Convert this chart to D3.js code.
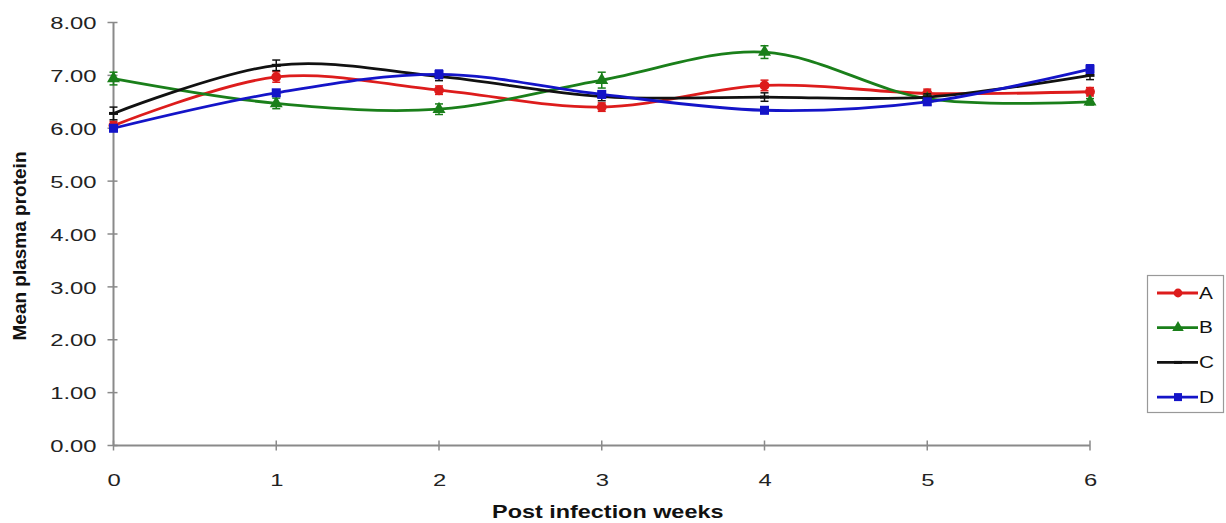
<!DOCTYPE html>
<html>
<head>
<meta charset="utf-8">
<script src="https://cdn.jsdelivr.net/npm/d3@7"></script>
<style>
  body { margin: 0; background: #fff; }
  text { font-family: "Liberation Sans", Arial, sans-serif; }
</style>
</head>
<body>
<div id="chart-area"></div>
<script>
// data
let weeks = [0, 1, 2, 3, 4, 5, 6];
let yTicks = [0, 1, 2, 3, 4, 5, 6, 7, 8];
let groups = ["A", "B", "C", "D"];
let valuesA = [6.05, 6.97, 6.72, 6.40, 6.81, 6.66, 6.69];
let valuesB = [6.94, 6.47, 6.36, 6.91, 7.44, 6.56, 6.50];
let valuesC = [6.28, 7.19, 6.98, 6.60, 6.59, 6.59, 7.00];
let valuesD = [6.00, 6.67, 7.02, 6.64, 6.34, 6.50, 7.12];
let errA = [0.08, 0.10, 0.08, 0.08, 0.10, 0.08, 0.08];
let errB = [0.12, 0.10, 0.10, 0.15, 0.12, 0.06, 0.06];
let errC = [0.12, 0.10, 0.08, 0.08, 0.08, 0.06, 0.08];
let errD = [0.06, 0.06, 0.08, 0.06, 0.06, 0.06, 0.08];
let colors = ["#dd1c1c", "#1a7f1a", "#111111", "#1414c8"];
let symbols = ["circle", "triangle", "dash", "square"];

let series = groups.map(function(g, i){
    let vals = [valuesA, valuesB, valuesC, valuesD][i];
    let errs = [errA, errB, errC, errD][i];
    return {
        name: g,
        color: colors[i],
        symbol: symbols[i],
        points: weeks.map(function(w, j){ return {x: w, y: vals[j], e: errs[j]}; })
    };
});

let width = 1226;
let height = 523;
// the source picture is stretched sideways, so text is widened too
let stretch = 1.4;

let svg = d3.select("#chart-area")
            .append("svg")
            .attr("width", width)
            .attr("height", height);

let x = d3.scaleLinear().domain([0, 6]).range([113.5, 1090]);
let y = d3.scaleLinear().domain([0, 8]).range([445.5, 22.5]);
let axisColor = "#8a8a8a";

// y axis with ticks crossing the line
let yAxis = svg.append("g")
               .attr("transform", "translate(" + x(0) + ",0)")
               .call(d3.axisLeft(y).tickValues(yTicks).tickSize(0).tickFormat(d3.format(".2f")));
yAxis.select(".domain").remove();
yAxis.selectAll("text")
     .attr("x", 0)
     .attr("dy", "0.36em")
     .attr("transform", "translate(-17,0) scale(" + stretch + ",1)")
     .style("font-size", "17px")
     .style("fill", "#222");

svg.append("line")
   .attr("x1", x(0)).attr("x2", x(0))
   .attr("y1", y(8)).attr("y2", y(0))
   .attr("stroke", axisColor).attr("stroke-width", 2);
svg.selectAll(".ytick")
   .data(yTicks)
   .enter()
   .append("line")
   .attr("x1", x(0) - 6).attr("x2", x(0) + 4)
   .attr("y1", function(d){ return y(d); })
   .attr("y2", function(d){ return y(d); })
   .attr("stroke", axisColor).attr("stroke-width", 1.5);

// x axis
let xAxis = svg.append("g")
               .attr("transform", "translate(0," + y(0) + ")")
               .call(d3.axisBottom(x).tickValues(weeks).tickSize(0).tickFormat(d3.format("d")));
xAxis.select(".domain").remove();
xAxis.selectAll("text")
     .attr("y", 0)
     .attr("dy", "0.36em")
     .attr("transform", "translate(0,34) scale(" + stretch + ",1)")
     .style("font-size", "17px")
     .style("fill", "#222");

svg.append("line")
   .attr("x1", x(0)).attr("x2", x(6))
   .attr("y1", y(0)).attr("y2", y(0))
   .attr("stroke", axisColor).attr("stroke-width", 2);
svg.selectAll(".xtick")
   .data(weeks)
   .enter()
   .append("line")
   .attr("x1", function(d){ return x(d); })
   .attr("x2", function(d){ return x(d); })
   .attr("y1", y(0) - 5).attr("y2", y(0) + 5)
   .attr("stroke", axisColor).attr("stroke-width", 1.5);

// axis titles
svg.append("text")
   .attr("transform", "translate(" + ((x(0) + x(6)) / 2 + 6) + ",518) scale(1.3,1)")
   .attr("text-anchor", "middle")
   .style("font-size", "18px")
   .style("font-weight", "bold")
   .style("fill", "#111")
   .text("Post infection  weeks");

svg.append("text")
   .attr("transform", "translate(26,246) rotate(-90)")
   .attr("text-anchor", "middle")
   .style("font-size", "19px")
   .style("font-weight", "bold")
   .style("fill", "#111")
   .text("Mean plasma protein");

let line = d3.line()
             .x(function(d){ return x(d.x); })
             .y(function(d){ return y(d.y); })
             .curve(d3.curveCatmullRom.alpha(0));

function drawMarker(sel, sym, color, size) {
    if (sym === "circle") {
        sel.append("circle").attr("r", size * 0.55).attr("fill", color);
    } else if (sym === "triangle") {
        sel.append("path").attr("d", d3.symbol().type(d3.symbolTriangle).size(size * size * 0.9)).attr("fill", color);
    } else if (sym === "square") {
        sel.append("rect").attr("x", -size / 2).attr("y", -size / 2)
           .attr("width", size).attr("height", size).attr("fill", color);
    } else {
        sel.append("rect").attr("x", -size / 2).attr("y", -1.5)
           .attr("width", size).attr("height", 3).attr("fill", color);
    }
}

let sg = svg.selectAll(".series")
            .data(series)
            .enter()
            .append("g")
            .attr("class", "series");

sg.each(function(s){
    let g = d3.select(this);
    // error bars
    s.points.forEach(function(p){
        let eb = g.append("g").attr("stroke", s.color).attr("stroke-width", 1.5);
        eb.append("line").attr("x1", x(p.x)).attr("x2", x(p.x))
          .attr("y1", y(p.y + p.e)).attr("y2", y(p.y - p.e));
        eb.append("line").attr("x1", x(p.x) - 4).attr("x2", x(p.x) + 4)
          .attr("y1", y(p.y + p.e)).attr("y2", y(p.y + p.e));
        eb.append("line").attr("x1", x(p.x) - 4).attr("x2", x(p.x) + 4)
          .attr("y1", y(p.y - p.e)).attr("y2", y(p.y - p.e));
    });
    g.append("path")
     .attr("d", line(s.points))
     .attr("fill", "none")
     .attr("stroke", s.color)
     .attr("stroke-width", 2.8);
    s.points.forEach(function(p){
        let m = g.append("g").attr("transform", "translate(" + x(p.x) + "," + y(p.y) + ")");
        drawMarker(m, s.symbol, s.color, 9);
    });
});

// legend
let legend = svg.append("g");
legend.append("rect")
      .attr("x", 1147.5).attr("y", 275.5)
      .attr("width", 76).attr("height", 137)
      .attr("fill", "#fff")
      .attr("stroke", "#999").attr("stroke-width", 1.2);

let li = legend.selectAll(".item")
               .data(series)
               .enter()
               .append("g")
               .attr("transform", function(d, i){ return "translate(0," + (293 + i * 34.7) + ")"; });
li.append("line")
  .attr("x1", 1157).attr("x2", 1198)
  .attr("stroke", function(d){ return d.color; })
  .attr("stroke-width", 2.8);
li.each(function(d){
    let m = d3.select(this).append("g").attr("transform", "translate(1178,0)");
    drawMarker(m, d.symbol, d.color, 8);
});
li.append("text")
  .attr("dy", "0.36em")
  .attr("transform", "translate(1199,0) scale(1.3,1)")
  .style("font-size", "16px")
  .style("fill", "#111")
  .text(function(d){ return d.name; });
</script>
</body>
</html>
